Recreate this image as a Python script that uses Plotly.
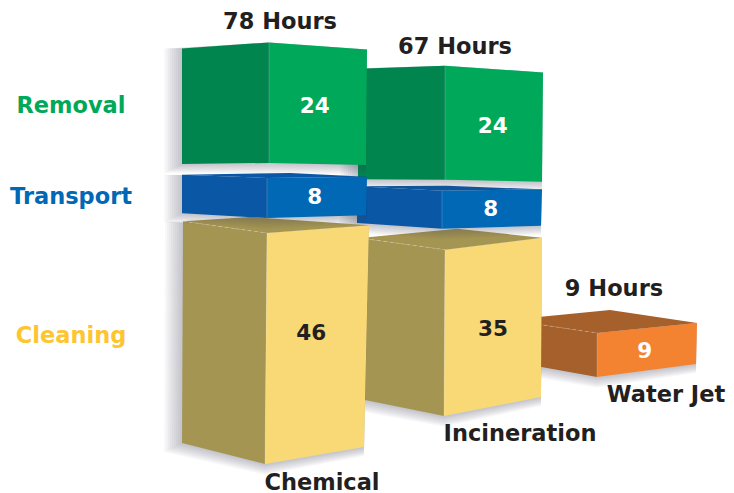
import plotly.graph_objects as go

# ---------- data ----------
categories = ["Chemical", "Incineration", "Water Jet"]
series_names = ["Cleaning", "Transport", "Removal"]
cleaning = [46, 35, 9]
transport = [8, 8, 0]
removal = [24, 24, 0]
unit_label = "Hours"

# ---------- styles ----------
FONT = "DejaVu Sans"
DARK = "#231f20"
STYLE = {
    "Cleaning": dict(right="#F8D976", left="#A59552", top="#A59552", label="#FDC52F", value=DARK),
    "Transport": dict(right="#0068B5", left="#0A58A5", top="#0A58A5", label="#0068B5", value="white"),
    "Removal": dict(right="#00A85A", left="#00854F", top="#00854F", label="#00A85A", value="white"),
}
WATER_STYLE = dict(right="#F38331", left="#A5602B", top="#A5602B", value="white")

# ---------- projection of each bar on the page: one value per visible edge (left, front, right) ----------
GEOM = {
    "Chemical": dict(
        base=(443, 464, 447), unit=(4.82, 5.02, 4.82),
        gaps={"Transport": (8, 15, 10), "Removal": (10.6, 15, 11.6)},
        xs={"Cleaning": ((182, 265, 364), (183, 267, 369), 250, 16),
            "Transport": ((182, 267, 366), (182, 267, 367), 290, 5),
            "Removal": ((182, 269, 366), (182, 269, 367), 0, 0)},
        label_dx={"Cleaning": (-5, -10), "Transport": (-2, -1), "Removal": (-3, 0)},
        total=(280, 21), name=(322, 482)),
    "Incineration": dict(
        base=(399, 416, 397), unit=(4.6, 4.75, 4.55),
        gaps={"Transport": (15, 21, 12), "Removal": (7, 11, 7.6)},
        xs={"Cleaning": ((360, 444, 541), (360, 445, 542), 457, 21),
            "Transport": ((357, 442, 541), (357, 442, 542), 447, 5),
            "Removal": ((358, 445, 542), (358, 445, 543), 0, 0)},
        label_dx={"Cleaning": (0, 3), "Transport": (-1, -1), "Removal": (-1, 0)},
        total=(455, 46), name=(520, 433)),
    "Water Jet": dict(
        base=(361, 377, 364), unit=(4.55, 4.9, 4.55),
        gaps={},
        xs={"Cleaning": ((508, 597, 696), (508, 597, 697), 610, 23)},
        label_dx={"Cleaning": (-2, 1)},
        total=(614, 288), name=(666, 394)),
}
SHADOW_STEPS = 9
DRAW_ORDER = ["Water Jet", "Incineration", "Chemical"]
PAGE_MARGIN = 8  # default body margin of the page around the plot div
LABEL_SIZE = 22.5
TEXT_DY = 2.5

values = {"Cleaning": cleaning, "Transport": transport, "Removal": removal}
fig = go.Figure()
texts = []


def poly(xs, ys, color):
    fig.add_trace(go.Scatter(x=list(xs) + [xs[0]], y=list(ys) + [ys[0]], mode="lines", fill="toself",
                             fillcolor=color, line=dict(width=0, color=color),
                             hoverinfo="skip", showlegend=False))


def edge_line(xs, ys, color, dash="solid"):
    fig.add_trace(go.Scatter(x=xs, y=ys, mode="lines", line=dict(width=0.7, color=color, dash=dash),
                             hoverinfo="skip", showlegend=False))


for cat in DRAW_ORDER:
    i = categories.index(cat)
    g = GEOM[cat]
    level = list(g["base"])
    total = 0
    for name in series_names:
        v = values[name][i]
        if not v:
            continue
        total += v
        st = WATER_STYLE if cat == "Water Jet" else STYLE[name]
        if name in g["gaps"]:
            level = [lv - gp for lv, gp in zip(level, g["gaps"][name])]
        bot = list(level)
        top = [lv - v * u for lv, u in zip(level, g["unit"])]
        xb, xt, back_x, depth = g["xs"][name]

        # soft shadow, left of and below the block
        for s in range(SHADOW_STEPS, 0, -1):
            d = s * 2.0
            sx = [xt[0] - d, xt[1], xt[2], xb[2], xb[1], xb[0] - d]
            sy = [top[0], top[1], top[2], bot[2] + d * 0.5, bot[1] + d * 0.6, bot[0] + d * 0.5]
            poly(sx, sy, "rgba(70,72,100,0.04)")

        # faces
        poly([xb[0], xt[0], xt[1], xb[1]], [bot[0], top[0], top[1], bot[1]], st["left"])
        poly([xb[1], xt[1], xt[2], xb[2]], [bot[1], top[1], top[2], bot[2]], st["right"])
        if depth:
            poly([xt[0], back_x, xt[2], xt[1]], [top[0], top[1] - depth, top[2], top[1]], st["top"])
            if name != "Transport":
                edge_line([xt[0], xt[1]], [top[0], top[1]], "rgba(255,255,255,0.35)", "dot")
        edge_line([xb[1], xt[1]], [bot[1], top[1]], "rgba(255,255,255,0.25)")

        dx, dy = g["label_dx"][name]
        cx = (xb[1] + xt[1] + xb[2] + xt[2]) / 4 + dx
        cy = (bot[1] + top[1] + bot[2] + top[2]) / 4 + dy
        texts.append((cx, cy, str(v), st["value"], 21.5))
        level = top
    texts.append((*g["total"], f"{total} {unit_label}", DARK, LABEL_SIZE))
    texts.append((*g["name"], cat, DARK, LABEL_SIZE))

for name, y in zip(series_names, [335, 196, 105]):
    texts.append((71, y, name, STYLE[name]["label"], LABEL_SIZE))

for x, y, t, c, size in texts:
    fig.add_trace(go.Scatter(x=[x], y=[y + TEXT_DY], mode="text", text=[f"<b>{t}</b>"], textposition="middle center",
                             textfont=dict(family=FONT, size=size, color=c), cliponaxis=False,
                             hoverinfo="skip", showlegend=False))

fig.update_layout(
    width=734 - PAGE_MARGIN, height=493 - PAGE_MARGIN, margin=dict(l=0, r=0, t=0, b=0),
    paper_bgcolor="white", plot_bgcolor="white",
    xaxis=dict(range=[PAGE_MARGIN, 734], visible=False, fixedrange=True),
    yaxis=dict(range=[493, PAGE_MARGIN], visible=False, fixedrange=True),
)
fig.write_html("out.html", config=dict(displayModeBar=False))
